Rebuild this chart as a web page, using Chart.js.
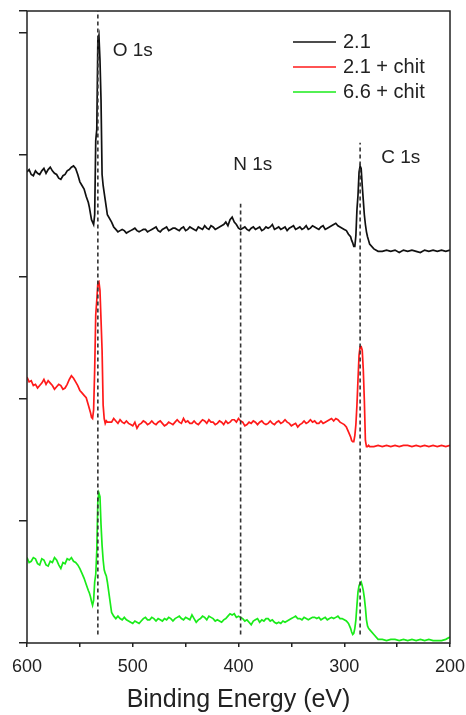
<!DOCTYPE html>
<html>
<head>
<meta charset="utf-8">
<script src="https://cdn.jsdelivr.net/npm/chart.js@4.4.1/dist/chart.umd.min.js"></script>
<style>
  html, body { margin: 0; padding: 0; background: #fff; }
  canvas { display: block; }
</style>
</head>
<body>
<canvas id="xps" width="466" height="715"></canvas>
<script>
// binding energy grid (eV), shared by the three spectra
const energy = [
    600, 598, 596, 594, 592, 590, 588, 586, 584, 582,
    580, 578, 576, 574, 572, 570, 568, 566, 564, 562,
    560, 558, 556, 554, 552, 550, 548, 546, 544,
    542, 541, 540, 539, 538, 537, 536, 535, 534, 533, 532, 531, 530, 529, 528, 527, 526, 525, 524,
    520, 518, 516, 514, 512, 510, 508, 506, 504, 502,
    500, 498, 496, 494, 492, 490, 488, 486, 484, 482,
    480, 478, 476, 474, 472, 470, 468, 466, 464, 462,
    460, 458, 456, 454, 452, 450, 448, 446, 444, 442,
    440, 438, 436, 434, 432, 430, 428, 426, 424, 422,
    420, 418, 416, 414, 412, 410, 408, 406, 404, 402,
    400, 398, 396, 394, 392, 390, 388, 386, 384, 382,
    380, 378, 376, 374, 372, 370, 368, 366, 364, 362,
    360, 358, 356, 354, 352, 350, 348, 346, 344, 342,
    340, 338, 336, 334, 332, 330, 328, 326, 324, 322,
    320, 318, 316, 314, 312, 310, 308, 306, 304, 302,
    300, 298, 296,
    294, 293, 292, 291, 290, 289, 288, 287, 286, 285, 284, 283, 282, 281, 280, 279, 278, 277, 276,
    272, 268, 264, 260, 256, 252, 248, 244, 240, 236, 232, 228, 224, 220, 216, 212, 208, 204, 200
];

// intensities (a.u., curves offset as in the figure)
const s21 = [
    386, 388, 384, 383, 387, 385, 384, 387, 389, 385,
    388, 390, 387, 385, 384, 381, 380, 383, 384, 387,
    388, 390, 391, 389, 384, 378, 375, 372, 366,
    361, 357, 352, 347, 345, 343, 351, 412, 421, 494, 498, 478, 445, 384, 375, 369, 363, 357, 351,
    345, 341, 339, 337, 338, 339, 338, 336, 337, 338,
    339, 340, 338, 337, 338, 339, 339, 337, 338, 339,
    340, 341, 338, 337, 339, 340, 341, 338, 339, 340,
    340, 339, 338, 340, 341, 338, 339, 341, 340, 339,
    338, 341, 340, 339, 342, 340, 339, 342, 341, 339,
    340, 341, 342, 343, 345, 342, 347, 349, 345, 343,
    340, 339, 340, 341, 339, 338, 340, 341, 339, 340,
    341, 338, 339, 341, 340, 341, 343, 339, 340, 341,
    339, 340, 341, 338, 340, 341, 342, 339, 340, 341,
    339, 340, 342, 339, 340, 342, 341, 340, 339, 341,
    342, 339, 340, 341, 342, 343, 344, 342, 341, 340,
    339, 338, 335,
    333, 330, 328, 325, 325, 334, 355, 367, 386, 391, 389, 375, 363, 351, 343, 337, 333, 330, 327,
    323, 321, 321, 322, 321, 322, 320, 322, 321, 322, 321, 320, 322, 321, 322, 321, 322, 321, 322
];
const s21chit = [
    218, 214, 215, 211, 212, 209, 211, 213, 216, 212,
    215, 213, 211, 208, 210, 212, 211, 208, 209, 212,
    216, 219, 217, 214, 211, 207, 205, 203, 201,
    195, 192, 189, 185, 184, 191, 224, 269, 281, 295, 296, 289, 265, 240, 195, 184, 180, 182, 181,
    181, 184, 182, 180, 183, 181, 180, 182, 180, 179,
    178, 181, 176, 179, 180, 182, 181, 179, 180, 182,
    180, 179, 181, 182, 180, 178, 179, 181, 180, 179,
    181, 183, 181, 180, 184, 181, 182, 180, 180, 182,
    180, 179, 181, 183, 182, 180, 183, 181, 181, 179,
    180, 182, 181, 179, 182, 180, 181, 183, 183, 181,
    184, 182, 181, 178, 179, 181, 180, 182, 181, 179,
    181, 182, 180, 179, 180, 182, 180, 179, 181, 182,
    180, 181, 183, 181, 180, 178, 179, 180, 177, 179,
    180, 182, 180, 181, 183, 181, 182, 180, 180, 182,
    180, 181, 182, 183, 184, 182, 184, 183, 181, 180,
    179, 177, 173,
    169, 166, 165, 165, 170, 179, 195, 216, 236, 243, 243, 240, 224, 199, 166, 161, 161, 162, 161,
    161, 162, 161, 162, 161, 162, 161, 162, 162, 161, 162, 161, 162, 161, 162, 161, 162, 161, 162
];
const s66chit = [
    70, 66, 67, 70, 69, 65, 64, 69, 68, 64,
    63, 67, 66, 70, 68, 64, 61, 66, 65, 69,
    68, 70, 67, 66, 64, 61, 57, 53, 48,
    43, 41, 38, 34, 31, 35, 50, 56, 76, 117, 123, 120, 97, 80, 68, 60, 57, 55, 50,
    25, 22, 20, 22, 20, 19, 21, 19, 18, 17,
    16, 18, 17, 16, 18, 20, 21, 19, 19, 21,
    20, 18, 20, 19, 18, 20, 19, 21, 20, 18,
    20, 21, 22, 20, 19, 21, 20, 19, 23, 20,
    17, 19, 20, 22, 21, 19, 22, 21, 20, 18,
    19, 18, 17, 19, 20, 22, 24, 23, 24, 21,
    22, 21, 20, 18, 19, 17, 15, 18, 19, 20,
    17, 19, 18, 20, 20, 18, 19, 17, 16, 17,
    16, 18, 17, 18, 19, 20, 21, 22, 20, 20,
    19, 21, 20, 19, 20, 21, 21, 20, 21, 19,
    20, 21, 19, 20, 21, 20, 21, 22, 20, 20,
    19, 18, 16,
    12, 9, 7, 8, 12, 19, 31, 42, 47, 49, 50, 47, 43, 37, 29, 19, 14, 12, 11,
    7, 3, 3, 2, 3, 3, 2, 3, 2, 3, 2, 3, 2, 3, 2, 2, 2, 3, 5
];

const seriesNames = ["2.1", "2.1 + chit", "6.6 + chit"];
const seriesColors = ["#111111", "#ff1a1a", "#1aeb1a"];

// reference lines for the core levels
const peakNames = ["O 1s", "N 1s", "C 1s"];
const peakEnergy = [533, 398, 285];
const peakTop = [518, 360, 410];
const peakBase = 7;

const xTicks = [600, 500, 400, 300, 200];

const FONT = "'Liberation Sans', Arial, sans-serif";

function spectrum(values) {
    return energy.map(function (e, i) {
        return { x: e, y: values[i] };
    });
}

const datasets = [];
peakEnergy.forEach(function (e, i) {
    datasets.push({
        label: peakNames[i],
        data: [{ x: e, y: peakBase }, { x: e, y: peakTop[i] }],
        borderColor: "#333",
        borderWidth: 1.6,
        borderDash: [4, 3],
        pointRadius: 0,
    });
});
[s21, s21chit, s66chit].forEach(function (vals, i) {
    datasets.push({
        label: seriesNames[i],
        data: spectrum(vals),
        borderColor: seriesColors[i],
        borderWidth: 1.7,
        pointRadius: 0,
        tension: 0,
    });
});

// frame, legend and peak labels
const decorations = {
    id: "decorations",
    afterDatasetsDraw: function (chart) {
        const ctx = chart.ctx;
        const area = chart.chartArea;
        const xs = chart.scales.x;
        const ys = chart.scales.y;
        ctx.save();

        ctx.strokeStyle = "#222";
        ctx.lineWidth = 1.5;
        ctx.strokeRect(area.left, area.top, area.right - area.left, area.bottom - area.top);

        // legend
        ctx.font = "20px " + FONT;
        ctx.textBaseline = "middle";
        ctx.textAlign = "left";
        seriesNames.forEach(function (name, i) {
            const y = 42 + i * 25;
            ctx.strokeStyle = seriesColors[i];
            ctx.lineWidth = 1.7;
            ctx.beginPath();
            ctx.moveTo(293, y);
            ctx.lineTo(336, y);
            ctx.stroke();
            ctx.fillStyle = "#222";
            ctx.fillText(name, 343, y);
        });

        // core level labels
        const labelPos = [[519, 485], [405, 392], [265, 398]];
        ctx.font = "19px " + FONT;
        peakNames.forEach(function (name, i) {
            ctx.fillText(name, xs.getPixelForValue(labelPos[i][0]), ys.getPixelForValue(labelPos[i][1]));
        });
        ctx.restore();
    },
};

new Chart(document.getElementById("xps").getContext("2d"), {
    type: "line",
    data: { datasets: datasets },
    options: {
        responsive: false,
        animation: false,
        layout: { padding: { top: 11, right: 16, left: 0, bottom: 0 } },
        plugins: {
            legend: { display: false },
            tooltip: { enabled: false },
        },
        scales: {
            x: {
                type: "linear",
                reverse: true,
                min: 200,
                max: 600,
                border: { display: false },
                grid: {
                    drawOnChartArea: false,
                    drawTicks: true,
                    tickLength: 4,
                    color: "#222",
                    lineWidth: 1.5,
                },
                ticks: {
                    stepSize: 50,
                    autoSkip: false,
                    maxRotation: 0,
                    padding: 9,
                    color: "#222",
                    font: { family: FONT, size: 18 },
                    callback: function (v) {
                        return xTicks.indexOf(v) >= 0 ? String(v) : "";
                    },
                },
                title: {
                    display: true,
                    text: "Binding Energy (eV)",
                    color: "#222",
                    font: { family: FONT, size: 25 },
                    padding: { top: 0, bottom: 0 },
                },
                afterFit: function (scale) {
                    scale.height = 72;
                    scale.paddingLeft = 0;
                    scale.paddingRight = 0;
                },
            },
            y: {
                min: 0,
                max: 518,
                border: { display: false },
                grid: {
                    drawOnChartArea: false,
                    drawTicks: true,
                    tickLength: 8,
                    color: "#222",
                    lineWidth: 1.5,
                },
                ticks: { display: false, stepSize: 100 },
                afterFit: function (scale) {
                    scale.width = 27;
                },
            },
        },
    },
    plugins: [decorations],
});
</script>
</body>
</html>
